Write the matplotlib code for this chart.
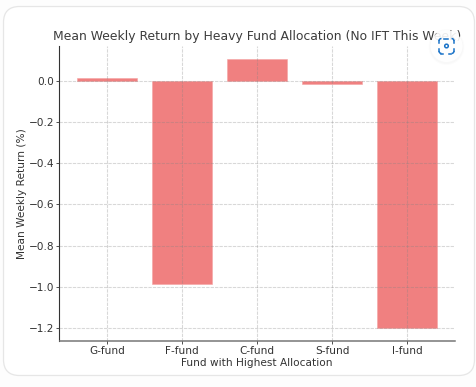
import matplotlib
matplotlib.use("Agg")
import matplotlib.pyplot as plt
from matplotlib.patches import FancyBboxPatch, Circle, Arc

funds = ["G-fund", "F-fund", "C-fund", "S-fund", "I-fund"]
mean_returns = [0.016, -0.99, 0.109, -0.011, -1.2]
yticks = [0.0, -0.2, -0.4, -0.6, -0.8, -1.0, -1.2]

W, H = 477, 387
fig = plt.figure(figsize=(W / 100, H / 100), dpi=100, facecolor="#fdfdfd")

# overlay in pixel coords, y going down, for the card and the icon
bg = fig.add_axes([0, 0, 1, 1], zorder=0)
bg.set_xlim(0, W)
bg.set_ylim(H, 0)
bg.axis("off")
bg.add_patch(FancyBboxPatch((3.5, 6.5), 471, 109 + 260, boxstyle="round,pad=0,rounding_size=16",
                            fc="white", ec="#e6e6e6", lw=0.9))

ax = fig.add_axes([59.5 / W, 1 - 341 / H, (455 - 59.5) / W, (341 - 45.5) / H], zorder=1)
ax.patch.set_alpha(0)
ax.bar(funds, mean_returns, color="#f08080", width=0.8, edgecolor="#f4a3a3", linewidth=0.4, zorder=2)
ax.grid(True, linestyle=(0, (3, 1)), linewidth=0.8, color="#808080", alpha=0.3, zorder=3)
ax.set_axisbelow(False)
ax.set_yticks(yticks)
ax.set_yticklabels(["0.0", "\u22120.2", "\u22120.4", "\u22120.6", "\u22120.8", "\u22121.0", "\u22121.2"])
ax.tick_params(labelsize=7.6, length=2.2, width=0.6, colors="#333333", pad=1.5)
ax.spines["top"].set_visible(False)
ax.spines["right"].set_visible(False)
ax.spines["left"].set_color("#333333")
ax.spines["bottom"].set_color("#777777")
ax.spines["bottom"].set_linewidth(1.1)
ax.set_title("Mean Weekly Return by Heavy Fund Allocation (No IFT This Week)", fontsize=8.9, color="#3c3c3c", pad=3.8)
ax.set_xlabel("Fund with Highest Allocation", fontsize=7.6, color="#333333", labelpad=1.5)
ax.set_ylabel("Mean Weekly Return (%)", fontsize=7.6, color="#333333", labelpad=1.5)
ax.set_xlim(-0.64, 4.64)
ax.set_ylim(-1.2655, 0.175)

# screenshot button on top of the chart
top = fig.add_axes([0, 0, 1, 1], zorder=2)
top.set_xlim(0, W)
top.set_ylim(H, 0)
top.axis("off")
for r, a in [(18, 0.012), (17, 0.015)]:
    top.add_patch(Circle((446.5, 47), r, fc="#000000", ec="none", alpha=a))
top.add_patch(Circle((446.5, 46), 16, fc="white", ec="none", alpha=0.9))
blue = "#1a73c8"
top.add_patch(Circle((446.5, 46), 1.8, fc="none", ec=blue, lw=1.1))
for cx, cy, th in [(441.5, 41, 180), (451.5, 41, 270), (451.5, 51, 0), (441.5, 51, 90)]:
    top.add_patch(Arc((cx, cy), 5, 5, theta1=th, theta2=th + 90, ec=blue, lw=1.1))
top.plot([444.5, 448.5], [38.5, 38.5], color=blue, lw=1.1)
top.plot([441.5, 443.5], [53.5, 53.5], color=blue, lw=1.1)
top.plot([449.5, 451.5], [53.5, 53.5], color=blue, lw=1.1)
top.plot([439, 439], [41, 43], color=blue, lw=1.1)
top.plot([454, 454], [41, 43], color=blue, lw=1.1)
top.plot([439, 439], [49, 51], color=blue, lw=1.1)
top.plot([454, 454], [49, 51], color=blue, lw=1.1)

fig.savefig("out.png", dpi=100, facecolor=fig.get_facecolor())
